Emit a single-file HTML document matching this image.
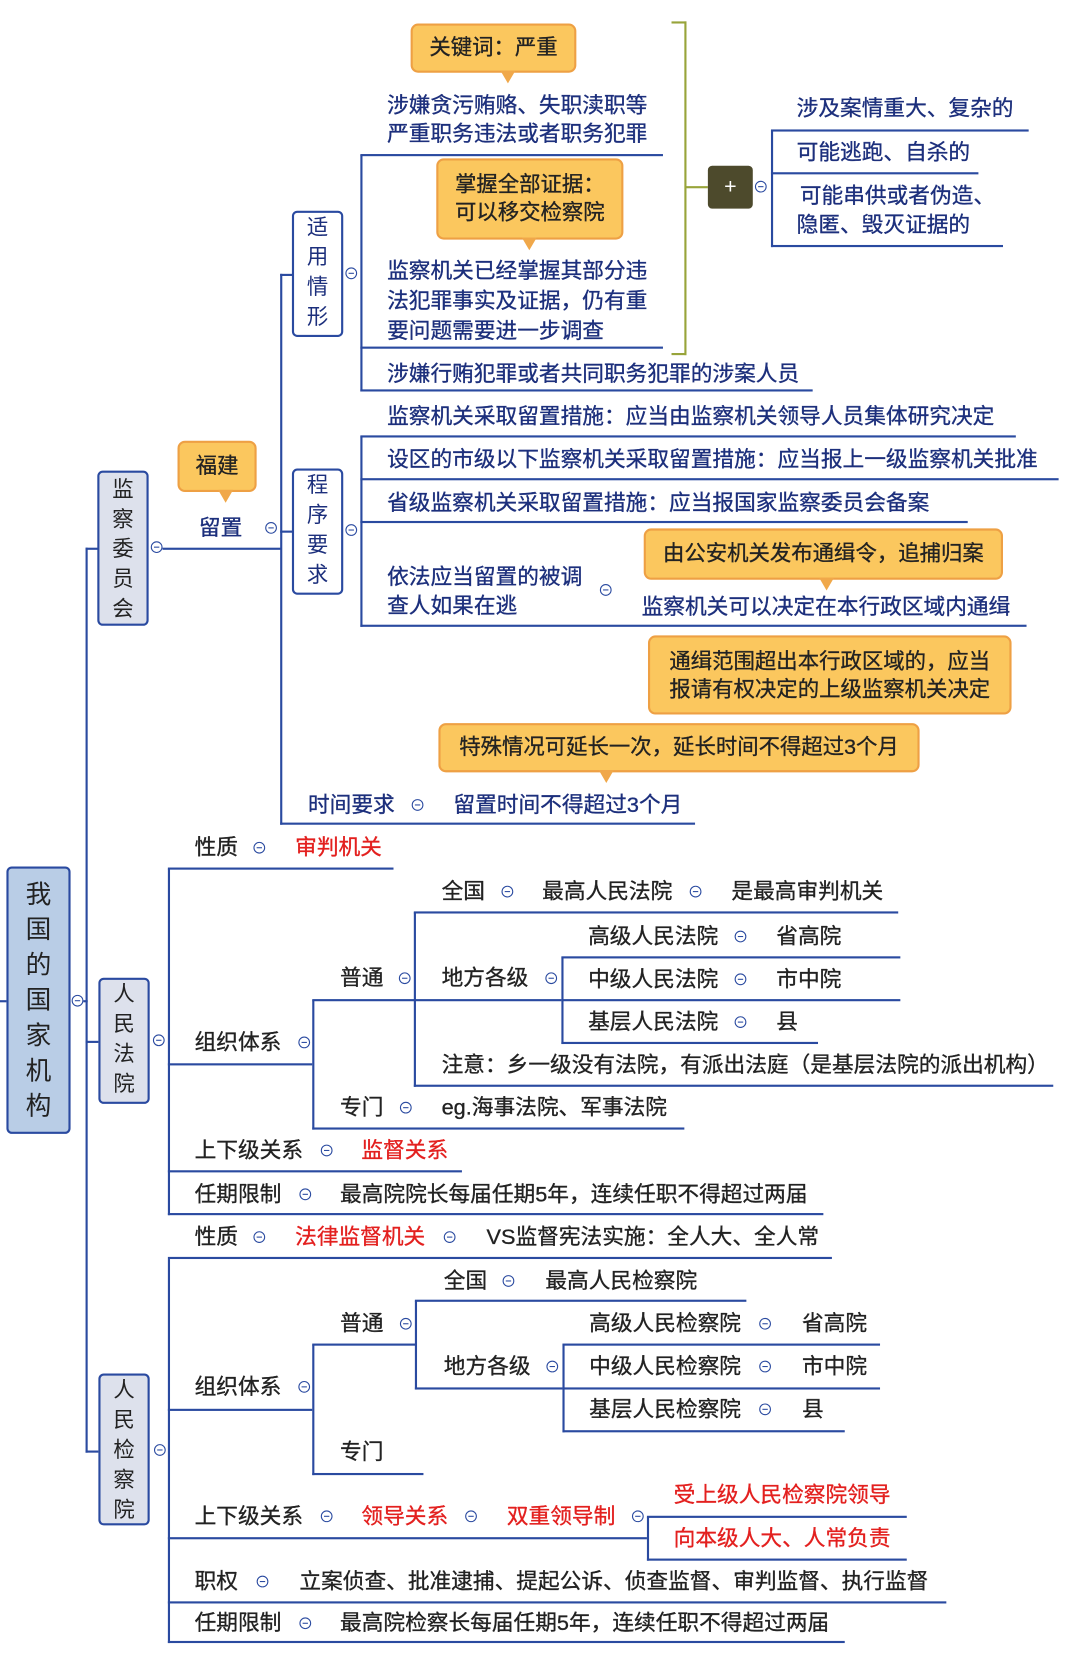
<!DOCTYPE html>
<html><head><meta charset="utf-8"><style>
html,body{margin:0;padding:0;background:#fff;}
body{width:1080px;height:1677px;overflow:hidden;position:relative;}
#w{position:absolute;left:0;top:0;width:1010px;height:1568px;transform:scale(1.0693,1.0697);transform-origin:0 0;font-family:"Liberation Sans","Noto Sans CJK SC",sans-serif;}
.t{position:absolute;font-size:20.3px;line-height:24px;color:#1c2f7c;white-space:nowrap;-webkit-text-stroke:0.3px currentColor;}
.r{color:#e3201f;}
.k{color:#222;}
.h{position:absolute;height:2px;background:#2a4aa0;}
.v{position:absolute;width:2px;background:#2a4aa0;}
.c{position:absolute;width:9px;height:9px;border:1.5px solid #2a4aa0;border-radius:50%;background:#fff;}
.c:after{content:"";position:absolute;left:2px;top:4px;width:5px;height:1px;background:#2a4aa0;}
.b{position:absolute;border:2px solid #2a4aa0;border-radius:5px;background:#fff;color:#1c2f7c;font-size:20px;line-height:28px;text-align:center;box-sizing:border-box;}
.g{background:#dde1ec;color:#222;}
.o{position:absolute;background:#fbc75e;border:2px solid #eea044;border-radius:7px;box-sizing:border-box;color:#222;font-size:20px;line-height:26px;text-align:center;-webkit-text-stroke:0.3px #222;}
.o i{position:absolute;width:0;height:0;border-left:7px solid transparent;border-right:7px solid transparent;border-top:12px solid #f0a84a;bottom:-12px;}
</style></head><body><div id="w">

<!-- root -->
<div class="b g" style="left:6px;top:810px;width:60px;height:250px;background:#b9cde6;font-size:24px;line-height:33px;padding-top:8px;">我<br>国<br>的<br>国<br>家<br>机<br>构</div>
<div class="h" style="left:0;top:935px;width:6px"></div>
<div class="c" style="left:67px;top:930px"></div>
<div class="h" style="left:78px;top:935px;width:4px"></div>
<div class="v" style="left:80px;top:512px;height:846px"></div>
<div class="h" style="left:80px;top:512px;width:12px"></div>
<div class="h" style="left:80px;top:973px;width:12px"></div>
<div class="h" style="left:80px;top:1356px;width:12px"></div>

<!-- 监察委员会 -->
<div class="b g" style="left:91px;top:440px;width:48px;height:145px;padding-top:2px;">监<br>察<br>委<br>员<br>会</div>
<div class="c" style="left:141px;top:506px"></div>
<div class="h" style="left:152px;top:512px;width:111px"></div>
<div class="t" style="left:186px;top:482px">留置</div>
<div class="c" style="left:248px;top:488px"></div>
<div class="o" style="left:166px;top:412px;width:74px;height:48px;line-height:44px;">福建<i style="left:36px"></i></div>
<div class="v" style="left:262px;top:256px;height:515px"></div>

<!-- 适用情形 -->
<div class="h" style="left:262px;top:256px;width:12px"></div>
<div class="b" style="left:273px;top:197px;width:48px;height:118px;">适<br>用<br>情<br>形</div>
<div class="c" style="left:323px;top:250px"></div>
<div class="v" style="left:337px;top:145px;height:221px"></div>
<div class="o" style="left:384px;top:22px;width:155px;height:46px;line-height:42px;">关键词：严重<i style="left:82px"></i></div>
<div class="t" style="left:362px;top:86px;line-height:27px">涉嫌贪污贿赂、失职渎职等<br>严重职务违法或者职务犯罪</div>
<div class="h" style="left:337px;top:144px;width:283px"></div>
<div class="o" style="left:408px;top:148px;width:175px;height:76px;padding-top:10px;">掌握全部证据：<br>可以移交检察院<i style="left:78px"></i></div>
<div class="t" style="left:362px;top:240px;line-height:28px">监察机关已经掌握其部分违<br>法犯罪事实及证据，仍有重<br>要问题需要进一步调查</div>
<div class="h" style="left:337px;top:324px;width:283px"></div>
<div class="t" style="left:362px;top:338px">涉嫌行贿犯罪或者共同职务犯罪的涉案人员</div>
<div class="h" style="left:337px;top:364px;width:423px"></div>

<!-- bracket -->
<div style="position:absolute;left:628px;top:20px;width:12px;height:308px;border:2px solid #98a43a;border-left:none;"></div>
<div style="position:absolute;left:642px;top:174px;width:20px;height:2px;background:#98a43a"></div>
<div style="position:absolute;left:662px;top:155px;width:42px;height:40px;background:#4d4a2c;border-radius:4px;color:#fff;font-size:20px;line-height:40px;text-align:center;">+</div>
<div class="c" style="left:706px;top:169px"></div>
<div class="v" style="left:721px;top:122px;height:109px"></div>
<div class="t" style="left:745px;top:90px">涉及案情重大、复杂的</div>
<div class="h" style="left:721px;top:121px;width:241px"></div>
<div class="t" style="left:745px;top:131px">可能逃跑、自杀的</div>
<div class="h" style="left:721px;top:161px;width:194px"></div>
<div class="t" style="left:748px;top:171px;line-height:27px">可能串供或者伪造、<br><span style="margin-left:-3px">隐匿、毁灭证据的</span></div>
<div class="h" style="left:721px;top:229px;width:217px"></div>

<!-- 程序要求 -->
<div class="h" style="left:262px;top:496px;width:12px"></div>
<div class="b" style="left:273px;top:438px;width:48px;height:118px;">程<br>序<br>要<br>求</div>
<div class="c" style="left:323px;top:490px"></div>
<div class="v" style="left:337px;top:408px;height:178px"></div>
<div class="t" style="left:362px;top:378px">监察机关采取留置措施：应当由监察机关领导人员集体研究决定</div>
<div class="h" style="left:337px;top:407px;width:613px"></div>
<div class="t" style="left:362px;top:418px">设区的市级以下监察机关采取留置措施：应当报上一级监察机关批准</div>
<div class="h" style="left:337px;top:447px;width:653px"></div>
<div class="t" style="left:362px;top:459px">省级监察机关采取留置措施：应当报国家监察委员会备案</div>
<div class="h" style="left:337px;top:487px;width:568px"></div>
<div class="t" style="left:362px;top:527px;line-height:27px">依法应当留置的被调<br>查人如果在逃</div>
<div class="c" style="left:561px;top:546px"></div>
<div class="o" style="left:602px;top:494px;width:336px;height:48px;line-height:44px;">由公安机关发布通缉令，追捕归案<i style="left:162px"></i></div>
<div class="t" style="left:600px;top:556px">监察机关可以决定在本行政区域内通缉</div>
<div class="h" style="left:337px;top:584px;width:623px"></div>
<div class="o" style="left:606px;top:594px;width:340px;height:74px;padding-top:10px;">通缉范围超出本行政区域的，应当<br>报请有权决定的上级监察机关决定</div>
<div class="o" style="left:410px;top:676px;width:450px;height:46px;line-height:42px;">特殊情况可延长一次，延长时间不得超过3个月<i style="left:148px"></i></div>

<!-- 时间要求 -->
<div class="t" style="left:288px;top:741px">时间要求</div>
<div class="c" style="left:385px;top:747px"></div>
<div class="t" style="left:424px;top:741px">留置时间不得超过3个月</div>
<div class="h" style="left:262px;top:769px;width:388px"></div>

<!-- 人民法院 -->
<div class="b g" style="left:92px;top:914px;width:48px;height:118px;">人<br>民<br>法<br>院</div>
<div class="c" style="left:143px;top:967px"></div>
<div class="v" style="left:157px;top:812px;height:324px"></div>
<div class="t k" style="left:182px;top:781px">性质</div>
<div class="c" style="left:237px;top:787px"></div>
<div class="t r" style="left:276px;top:781px">审判机关</div>
<div class="h" style="left:157px;top:811px;width:211px"></div>

<div class="t k" style="left:182px;top:963px">组织体系</div>
<div class="c" style="left:279px;top:969px"></div>
<div class="h" style="left:157px;top:994px;width:135px"></div>
<div class="v" style="left:292px;top:935px;height:121px"></div>
<div class="t k" style="left:318px;top:903px">普通</div>
<div class="c" style="left:373px;top:909px"></div>
<div class="h" style="left:292px;top:934px;width:96px"></div>
<div class="v" style="left:387px;top:853px;height:163px"></div>
<div class="t k" style="left:413px;top:822px">全国</div>
<div class="c" style="left:469px;top:828px"></div>
<div class="t k" style="left:507px;top:822px">最高人民法院</div>
<div class="c" style="left:645px;top:828px"></div>
<div class="t k" style="left:684px;top:822px">是最高审判机关</div>
<div class="h" style="left:387px;top:852px;width:453px"></div>
<div class="t k" style="left:413px;top:903px">地方各级</div>
<div class="c" style="left:510px;top:909px"></div>
<div class="h" style="left:387px;top:934px;width:138px"></div>
<div class="v" style="left:525px;top:895px;height:81px"></div>
<div class="t k" style="left:550px;top:864px">高级人民法院</div>
<div class="c" style="left:687px;top:870px"></div>
<div class="t k" style="left:726px;top:864px">省高院</div>
<div class="h" style="left:525px;top:894px;width:317px"></div>
<div class="t k" style="left:550px;top:904px">中级人民法院</div>
<div class="c" style="left:687px;top:910px"></div>
<div class="t k" style="left:726px;top:904px">市中院</div>
<div class="h" style="left:525px;top:934px;width:317px"></div>
<div class="t k" style="left:550px;top:944px">基层人民法院</div>
<div class="c" style="left:687px;top:950px"></div>
<div class="t k" style="left:726px;top:944px">县</div>
<div class="h" style="left:525px;top:974px;width:240px"></div>
<div class="t k" style="left:413px;top:984px">注意：乡一级没有法院，有派出法庭（是基层法院的派出机构）</div>
<div class="h" style="left:387px;top:1014px;width:598px"></div>
<div class="t k" style="left:318px;top:1024px">专门</div>
<div class="c" style="left:374px;top:1030px"></div>
<div class="t k" style="left:413px;top:1024px">eg.海事法院、军事法院</div>
<div class="h" style="left:292px;top:1054px;width:348px"></div>

<div class="t k" style="left:182px;top:1064px">上下级关系</div>
<div class="c" style="left:300px;top:1070px"></div>
<div class="t r" style="left:338px;top:1064px">监督关系</div>
<div class="h" style="left:157px;top:1094px;width:275px"></div>
<div class="t k" style="left:182px;top:1105px">任期限制</div>
<div class="c" style="left:280px;top:1111px"></div>
<div class="t k" style="left:318px;top:1105px">最高院院长每届任期5年，连续任职不得超过两届</div>
<div class="h" style="left:157px;top:1134px;width:613px"></div>

<!-- 人民检察院 -->
<div class="b g" style="left:92px;top:1284px;width:48px;height:142px;">人<br>民<br>检<br>察<br>院</div>
<div class="c" style="left:144px;top:1350px"></div>
<div class="v" style="left:157px;top:1177px;height:359px"></div>
<div class="t k" style="left:182px;top:1145px">性质</div>
<div class="c" style="left:237px;top:1151px"></div>
<div class="t r" style="left:276px;top:1145px">法律监督机关</div>
<div class="c" style="left:415px;top:1151px"></div>
<div class="t k" style="left:455px;top:1145px">VS监督宪法实施：全人大、全人常</div>
<div class="h" style="left:157px;top:1175px;width:621px"></div>

<div class="t k" style="left:182px;top:1285px">组织体系</div>
<div class="c" style="left:279px;top:1291px"></div>
<div class="h" style="left:157px;top:1317px;width:135px"></div>
<div class="v" style="left:292px;top:1257px;height:122px"></div>
<div class="t k" style="left:318px;top:1226px">普通</div>
<div class="c" style="left:374px;top:1232px"></div>
<div class="h" style="left:292px;top:1256px;width:97px"></div>
<div class="v" style="left:388px;top:1216px;height:83px"></div>
<div class="t k" style="left:415px;top:1186px">全国</div>
<div class="c" style="left:470px;top:1192px"></div>
<div class="t k" style="left:510px;top:1186px">最高人民检察院</div>
<div class="h" style="left:388px;top:1215px;width:310px"></div>
<div class="t k" style="left:415px;top:1266px">地方各级</div>
<div class="c" style="left:511px;top:1272px"></div>
<div class="h" style="left:388px;top:1297px;width:138px"></div>
<div class="v" style="left:526px;top:1257px;height:82px"></div>
<div class="t k" style="left:551px;top:1226px">高级人民检察院</div>
<div class="c" style="left:710px;top:1232px"></div>
<div class="t k" style="left:750px;top:1226px">省高院</div>
<div class="h" style="left:526px;top:1256px;width:297px"></div>
<div class="t k" style="left:551px;top:1266px">中级人民检察院</div>
<div class="c" style="left:710px;top:1272px"></div>
<div class="t k" style="left:750px;top:1266px">市中院</div>
<div class="h" style="left:526px;top:1297px;width:297px"></div>
<div class="t k" style="left:551px;top:1306px">基层人民检察院</div>
<div class="c" style="left:710px;top:1312px"></div>
<div class="t k" style="left:750px;top:1306px">县</div>
<div class="h" style="left:526px;top:1337px;width:264px"></div>
<div class="t k" style="left:318px;top:1346px">专门</div>
<div class="h" style="left:292px;top:1377px;width:104px"></div>

<div class="t k" style="left:182px;top:1406px">上下级关系</div>
<div class="c" style="left:300px;top:1412px"></div>
<div class="t r" style="left:338px;top:1406px">领导关系</div>
<div class="c" style="left:435px;top:1412px"></div>
<div class="t r" style="left:474px;top:1406px">双重领导制</div>
<div class="c" style="left:591px;top:1412px"></div>
<div class="h" style="left:157px;top:1437px;width:448px"></div>
<div class="v" style="left:605px;top:1418px;height:41px"></div>
<div class="t r" style="left:630px;top:1386px">受上级人民检察院领导</div>
<div class="h" style="left:605px;top:1417px;width:243px"></div>
<div class="t r" style="left:630px;top:1427px">向本级人大、人常负责</div>
<div class="h" style="left:605px;top:1457px;width:243px"></div>

<div class="t k" style="left:182px;top:1467px">职权</div>
<div class="c" style="left:240px;top:1473px"></div>
<div class="t k" style="left:280px;top:1467px">立案侦查、批准逮捕、提起公诉、侦查监督、审判监督、执行监督</div>
<div class="h" style="left:157px;top:1497px;width:728px"></div>
<div class="t k" style="left:182px;top:1506px">任期限制</div>
<div class="c" style="left:280px;top:1512px"></div>
<div class="t k" style="left:318px;top:1506px">最高院检察长每届任期5年，连续任职不得超过两届</div>
<div class="h" style="left:157px;top:1534px;width:633px"></div>

</div></body></html>
